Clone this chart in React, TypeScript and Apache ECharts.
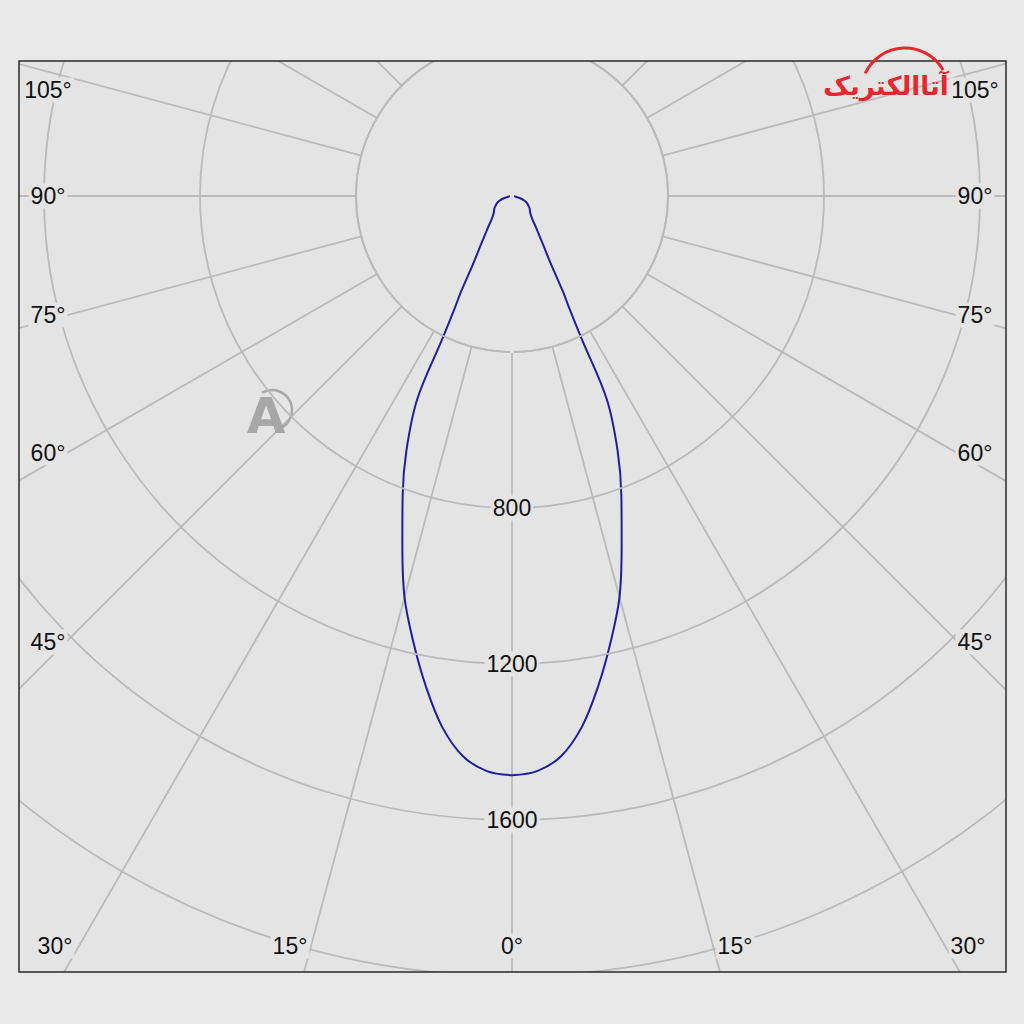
import React, { useEffect, useRef } from "react";
import * as echarts from "echarts";

// Photometric data (cd) by angle from nadir (symmetric distribution)
const angles = [0, 2.5, 5, 7.5, 10, 12.5, 15, 17.5, 20, 22.5, 25, 26, 27, 28, 30, 32.5, 35, 37.5, 40, 42.5, 45, 50, 55, 60, 65, 70, 75, 80, 85, 90, 120, 150, 180];
const intensity = [1485, 1476, 1442, 1373, 1275, 1170, 1065, 935, 820, 708, 575, 405, 325, 280, 195, 150, 120, 100, 85, 75, 68, 60, 55, 48, 42, 33, 20, 10, 4, 0, 0, 0, 0];

const radialTicks = [800, 1200, 1600];
const sideLabels = ["105°", "90°", "75°", "60°", "45°"];
const sideLabelY = [90, 196, 315, 453, 642];
const bottomLabels = ["30°", "15°", "0°", "15°", "30°"];
const bottomLabelX = [55, 290, 512, 735, 968];

const CX = 512;
const CY = 196;
const R_MAX = 2400;
const PX_PER_400 = 156;
const R_PX = (R_MAX / 400) * PX_PER_400;

const INNER_BG = "#e4e4e4";
const OUTER_BG = "#e8e8e8";
const GRID = "#bababa";
const FONT = '23px "Liberation Sans", Arial, sans-serif';

export default function App() {
  const ref = useRef<HTMLDivElement>(null);
  useEffect(() => {
    if (!ref.current) return;
    const chart = echarts.init(ref.current, undefined, { renderer: "svg" });

    // one half up to the first zero (the lobe closes at the pole), then mirrored half
    const firstZero = intensity.indexOf(0);
    const half = angles.slice(0, firstZero + 1).map((a, i) => [intensity[i], a] as [number, number]);
    const data: [number, number][] = [...half];
    for (let i = half.length - 2; i >= 0; i--) data.push([half[i][0], 360 - half[i][1]]);

    const frame = { x: 19, y: 61, w: 987, h: 911 };

    const graphics: any[] = [
      {
        type: "circle",
        z: 1,
        shape: { cx: CX, cy: CY, r: PX_PER_400 },
        style: { fill: INNER_BG, stroke: GRID, lineWidth: 1.8 },
        silent: true,
      },
      { type: "rect", z: 100, shape: { x: 0, y: 0, width: 1024, height: frame.y }, style: { fill: OUTER_BG } },
      { type: "rect", z: 100, shape: { x: 0, y: frame.y + frame.h, width: 1024, height: 1024 - frame.y - frame.h }, style: { fill: OUTER_BG } },
      { type: "rect", z: 100, shape: { x: 0, y: 0, width: frame.x, height: 1024 }, style: { fill: OUTER_BG } },
      { type: "rect", z: 100, shape: { x: frame.x + frame.w, y: 0, width: 1024 - frame.x - frame.w, height: 1024 }, style: { fill: OUTER_BG } },
      { type: "rect", z: 101, shape: { x: frame.x, y: frame.y, width: frame.w, height: frame.h }, style: { fill: "none", stroke: "#2a2a2a", lineWidth: 1.5 } },
    ];

    sideLabels.forEach((t, i) => {
      [48, 975].forEach((x) => {
        graphics.push({
          type: "text",
          z: 50,
          x,
          y: sideLabelY[i],
          style: { text: t, font: FONT, fill: "#111", align: "center", verticalAlign: "middle", backgroundColor: INNER_BG, padding: [1, 2] },
        });
      });
    });
    bottomLabels.forEach((t, i) => {
      graphics.push({
        type: "text",
        z: 50,
        x: bottomLabelX[i],
        y: 946,
        style: { text: t, font: FONT, fill: "#111", align: "center", verticalAlign: "middle", backgroundColor: INNER_BG, padding: [1, 2] },
      });
    });

    // logo (top right) and watermark
    graphics.push({
      type: "arc",
      z: 102,
      shape: { cx: 905, cy: 92, r: 44, startAngle: (205 * Math.PI) / 180, endAngle: (330 * Math.PI) / 180, clockwise: true },
      style: { stroke: "#e8262c", lineWidth: 3, fill: "none" },
    });
    graphics.push({
      type: "text",
      z: 102,
      x: 886,
      y: 86,
      style: { text: "آتاالکتریک", font: 'bold 26px "DejaVu Sans"', fill: "#e8262c", align: "center", verticalAlign: "middle" },
    });
    graphics.push({
      type: "text",
      z: 3,
      x: 266,
      y: 416,
      style: { text: "A", font: 'bold 50px "DejaVu Sans"', fill: "#9c9c9c", align: "center", verticalAlign: "middle", opacity: 0.85 },
    });
    graphics.push({
      type: "arc",
      z: 3,
      shape: { cx: 272, cy: 410, r: 20, startAngle: (-120 * Math.PI) / 180, endAngle: (80 * Math.PI) / 180, clockwise: true },
      style: { stroke: "#a8a8a8", lineWidth: 2.5, fill: "none" },
    });

    chart.setOption({
      animation: false,
      backgroundColor: INNER_BG,
      polar: { center: [CX, CY], radius: [0, R_PX] },
      angleAxis: {
        type: "value",
        min: 0,
        max: 360,
        interval: 15,
        startAngle: 270,
        clockwise: true,
        axisLine: { show: false },
        axisTick: { show: false },
        axisLabel: { show: false },
        splitLine: { show: true, lineStyle: { color: GRID, width: 1.8 } },
      },
      radiusAxis: {
        type: "value",
        min: 0,
        max: R_MAX,
        interval: 400,
        z: 10,
        axisLine: { show: false },
        axisTick: { show: false },
        splitLine: { show: true, lineStyle: { color: GRID, width: 1.8 } },
        axisLabel: {
          show: true,
          margin: 0,
          align: "center",
          verticalAlign: "middle",
          fontSize: 23,
          fontFamily: '"Liberation Sans", Arial, sans-serif',
          color: "#111",
          backgroundColor: INNER_BG,
          padding: [1, 2],
          formatter: (v: number) => (radialTicks.includes(v) ? String(v) : ""),
        },
      },
      series: [
        {
          type: "line",
          coordinateSystem: "polar",
          z: 5,
          showSymbol: false,
          smooth: 0.35,
          lineStyle: { color: "#1e1ea0", width: 2 },
          data,
        },
      ],
      graphic: graphics,
    });

    return () => chart.dispose();
  }, []);

  return <div ref={ref} style={{ position: "absolute", left: 0, top: 0, width: 1024, height: 1024 }} />;
}
